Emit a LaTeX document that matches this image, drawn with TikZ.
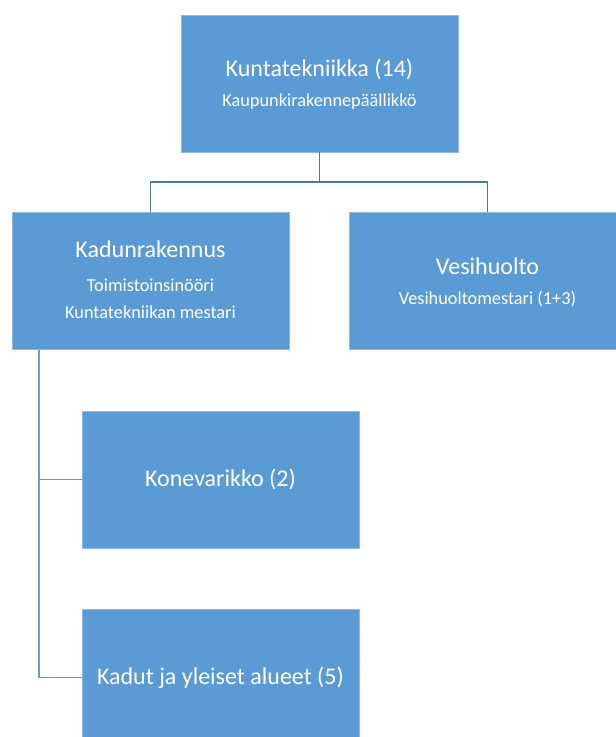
\documentclass[tikz,border=0pt]{standalone}
\usepackage{fontspec}
\setmainfont{Carlito}
\definecolor{boxblue}{HTML}{5B9BD5}
\definecolor{boxedge}{HTML}{8DB8E3}
\definecolor{linetop}{HTML}{4A79A8}
\definecolor{lineleft}{HTML}{6A98CF}
\begin{document}
\begin{tikzpicture}[x=1pt,y=-1pt,
  orgbox/.style={rectangle,fill=boxblue,draw=boxedge,line width=0.8pt,minimum width=277pt,minimum height=137pt,inner sep=0pt},
  ttl/.style={text=white,font=\fontsize{24}{28}\selectfont,inner sep=0pt},
  sub/.style={text=white,font=\fontsize{18.3}{21}\selectfont,inner sep=0pt},
  conn/.style={line width=1.6pt}]
\useasboundingbox (0,0) rectangle (616,737);
\clip (0,0) rectangle (616,737);
\fill[white] (0,0) rectangle (616,737);
% boxes
\node[orgbox] (top) at (319.5,83.5) {};
\node[orgbox] (kad) at (150.5,281) {};
\node[orgbox] (ves) at (487.5,281) {};
\node[orgbox] (kone) at (220.5,479.5) {};
\node[orgbox] (kadut) at (220.5,677.5) {};
% texts
\node[ttl] (topt) at (319.5,69) {Kuntatekniikka (14)};
\node[sub] (tops) at (319.5,102) {Kaupunkirakennepäällikkö};
\node[ttl] (kadt) at (150.5,249) {Kadunrakennus};
\node[sub] (kads1) at (150.5,285) {Toimistoinsinööri};
\node[sub] (kads2) at (150.5,312) {Kuntatekniikan mestari};
\node[ttl] (vest) at (487.5,266) {Vesihuolto};
\node[sub] (vess) at (487.5,299) {Vesihuoltomestari (1+3)};
\node[ttl] (konet) at (220.5,479.5) {Konevarikko (2)};
\node[ttl] (kadutt) at (220.5,678) {Kadut ja yleiset alueet (5)};
% connectors
\coordinate (bus) at (319.5,182);
\coordinate (spine) at (39,350);
\draw[conn,linetop] (top.south) -- (top.south |- bus);
\draw[conn,linetop] (kad.north) -- (kad.north |- bus) -- (ves.north |- bus) -- (ves.north);
\draw[conn,lineleft] (spine) |- (kadut.west);
\draw[conn,lineleft] (spine |- kone.west) -- (kone.west);
\end{tikzpicture}
\end{document}
